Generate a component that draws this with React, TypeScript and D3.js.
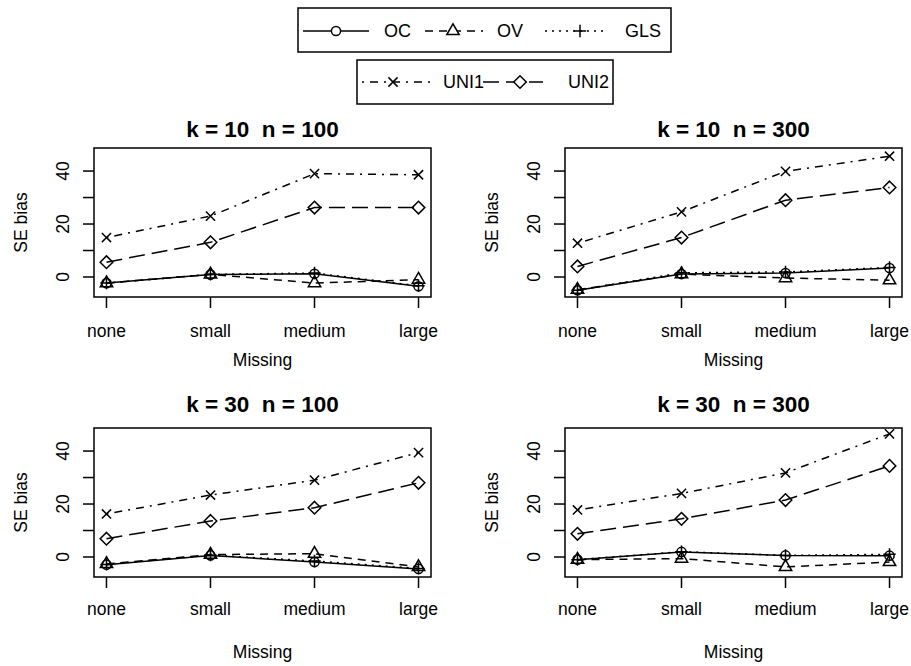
import React from "react";
import * as d3 from "d3";

const categories = ["none", "small", "medium", "large"];
const panelTitles = ["k = 10  n = 100", "k = 10  n = 300", "k = 30  n = 100", "k = 30  n = 300"];
const seriesNames = ["OC", "OV", "GLS", "UNI1", "UNI2"];
const yTicks = [0, 10, 20, 30, 40];
const yTickLabels = [0, 20, 40];
const xLabel = "Missing";
const yLabel = "SE bias";

// values per panel, per series (OC, OV, GLS, UNI1, UNI2)
const p1OC = [-2.3, 0.9, 1.2, -3.5];
const p1OV = [-2.3, 1.0, -2.3, -1.0];
const p1GLS = [-2.3, 1.0, 1.5, -3.3];
const p1UNI1 = [14.9, 23.0, 39.0, 38.6];
const p1UNI2 = [5.6, 13.1, 26.2, 26.2];

const p2OC = [-5.0, 1.1, 1.5, 3.4];
const p2OV = [-4.8, 1.1, -0.4, -1.2];
const p2GLS = [-5.0, 1.6, 1.9, 3.6];
const p2UNI1 = [12.75, 24.6, 39.9, 45.6];
const p2UNI2 = [4.0, 14.9, 29.0, 33.8];

const p3OC = [-2.9, 0.6, -1.9, -4.5];
const p3OV = [-2.6, 0.9, 1.25, -3.75];
const p3GLS = [-2.8, 0.7, -1.5, -4.3];
const p3UNI1 = [16.25, 23.4, 29.0, 39.4];
const p3UNI2 = [6.9, 13.6, 18.6, 28.0];

const p4OC = [-1.0, 1.9, 0.6, 0.5];
const p4OV = [-1.0, -0.6, -3.75, -1.9];
const p4GLS = [-1.0, 2.0, 0.6, 1.0];
const p4UNI1 = [17.75, 24.0, 31.75, 46.5];
const p4UNI2 = [8.75, 14.4, 21.5, 34.4];

const panelData = [
  [p1OC, p1OV, p1GLS, p1UNI1, p1UNI2],
  [p2OC, p2OV, p2GLS, p2UNI1, p2UNI2],
  [p3OC, p3OV, p3GLS, p3UNI1, p3UNI2],
  [p4OC, p4OV, p4GLS, p4UNI1, p4UNI2],
];

// styles
const dashes = ["", "8,6", "2,5", "2,6,8,6", "16,7"];
const symbolKinds = ["circle", "triangle", "plus", "times", "diamond"];
const FONT = "'Liberation Sans', Arial, Helvetica, sans-serif";
const LW = 1.5;

function symbolPath(kind: string, cx: number, cy: number): string {
  switch (kind) {
    case "circle": {
      const r = 4.6;
      return `M${cx - r},${cy}a${r},${r} 0 1,0 ${2 * r},0a${r},${r} 0 1,0 ${-2 * r},0Z`;
    }
    case "triangle": {
      const s = 6.2;
      const h = s * Math.sqrt(3);
      return `M${cx},${cy - (2 * h) / 3}L${cx + s},${cy + h / 3}L${cx - s},${cy + h / 3}Z`;
    }
    case "plus": {
      const a = 6.2;
      return `M${cx - a},${cy}L${cx + a},${cy}M${cx},${cy - a}L${cx},${cy + a}`;
    }
    case "times": {
      const a = 4.6;
      return `M${cx - a},${cy - a}L${cx + a},${cy + a}M${cx - a},${cy + a}L${cx + a},${cy - a}`;
    }
    case "diamond": {
      const a = 6.3;
      return `M${cx},${cy - a}L${cx + a},${cy}L${cx},${cy + a}L${cx - a},${cy}Z`;
    }
  }
  return "";
}

const panelsLayout = [
  { x0: 94, y0: 148, titleY: 136.5, tickLabY: 337, xLabY: 366 },
  { x0: 565, y0: 148, titleY: 136.5, tickLabY: 337, xLabY: 366 },
  { x0: 94, y0: 428, titleY: 411.5, tickLabY: 615, xLabY: 658 },
  { x0: 565, y0: 428, titleY: 411.5, tickLabY: 615, xLabY: 658 },
];
const PW = 337;
const PH = 149;

function Panel({ idx }: { idx: number }) {
  const L = panelsLayout[idx];
  const x = d3.scaleLinear().domain([0.88, 4.12]).range([L.x0, L.x0 + PW]);
  const y = d3.scaleLinear().domain([-7.55, 48.7]).range([L.y0 + PH, L.y0]);
  const line = d3
    .line<number>()
    .x((_, i) => x(i + 1))
    .y((d) => y(d));
  const data = panelData[idx];
  return (
    <g>
      <text
        x={L.x0 + PW / 2}
        y={L.titleY}
        textAnchor="middle"
        fontWeight="bold"
        fontSize={22.5}
        style={{ whiteSpace: "pre" }}
      >
        {panelTitles[idx]}
      </text>
      <rect x={L.x0} y={L.y0} width={PW} height={PH} fill="none" stroke="#000" strokeWidth={LW} />
      {yTicks.map((t) => (
        <line key={t} x1={L.x0 - 11} x2={L.x0} y1={y(t)} y2={y(t)} stroke="#000" strokeWidth={LW} />
      ))}
      {yTickLabels.map((t) => (
        <text
          key={t}
          transform={`translate(${L.x0 - 25},${y(t)}) rotate(-90)`}
          textAnchor="middle"
          fontSize={17.5}
        >
          {t}
        </text>
      ))}
      <text
        transform={`translate(${L.x0 - 67},${L.y0 + PH / 2}) rotate(-90)`}
        textAnchor="middle"
        fontSize={17.5}
      >
        {yLabel}
      </text>
      {categories.map((c, i) => (
        <g key={c}>
          <line x1={x(i + 1)} x2={x(i + 1)} y1={L.y0 + PH} y2={L.y0 + PH + 11} stroke="#000" strokeWidth={LW} />
          <text x={x(i + 1)} y={L.tickLabY} textAnchor="middle" fontSize={17.5}>
            {c}
          </text>
        </g>
      ))}
      <text x={L.x0 + PW / 2} y={L.xLabY} textAnchor="middle" fontSize={17.5}>
        {xLabel}
      </text>
      {data.map((vals, s) => (
        <g key={seriesNames[s]}>
          <path
            d={line(vals) || ""}
            fill="none"
            stroke="#000"
            strokeWidth={LW}
            strokeDasharray={dashes[s] || undefined}
          />
          {vals.map((v, i) => (
            <path
              key={i}
              d={symbolPath(symbolKinds[s], x(i + 1), y(v))}
              fill="none"
              stroke="#000"
              strokeWidth={LW}
            />
          ))}
        </g>
      ))}
    </g>
  );
}

const legendBoxes = [
  { x: 298, y: 8, w: 373, h: 44, lineY: 31, items: [
    { s: 0, l0: 303, l1: 369, sx: 336, tx: 384 },
    { s: 1, l0: 425, l1: 483, sx: 453, tx: 497 },
    { s: 2, l0: 545, l1: 608, sx: 580, tx: 625 },
  ] },
  { x: 357, y: 60, w: 256, h: 44, lineY: 82, items: [
    { s: 3, l0: 362, l1: 430, sx: 393, tx: 443 },
    { s: 4, l0: 483, l1: 543, sx: 520, tx: 568 },
  ] },
];

function Legend() {
  return (
    <g>
      {legendBoxes.map((b, bi) => (
        <g key={bi}>
          <rect x={b.x} y={b.y} width={b.w} height={b.h} fill="#fff" stroke="#000" strokeWidth={LW} />
          {b.items.map((it) => (
            <g key={it.s}>
              <line
                x1={it.l0}
                x2={it.l1}
                y1={b.lineY}
                y2={b.lineY}
                stroke="#000"
                strokeWidth={LW}
                strokeDasharray={dashes[it.s] || undefined}
              />
              <path d={symbolPath(symbolKinds[it.s], it.sx, b.lineY)} fill="#fff" stroke="#000" strokeWidth={LW} />
              <text x={it.tx} y={b.lineY} dy="0.36em" fontSize={18}>
                {seriesNames[it.s]}
              </text>
            </g>
          ))}
        </g>
      ))}
    </g>
  );
}

export default function App() {
  return (
    <svg
      width={911}
      height={666}
      style={{ position: "absolute", left: 0, top: 0, background: "#fff" }}
      fontFamily={FONT}
    >
      <rect x={0} y={0} width={911} height={666} fill="#fff" />
      <Legend />
      {panelsLayout.map((_, i) => (
        <Panel key={i} idx={i} />
      ))}
    </svg>
  );
}
